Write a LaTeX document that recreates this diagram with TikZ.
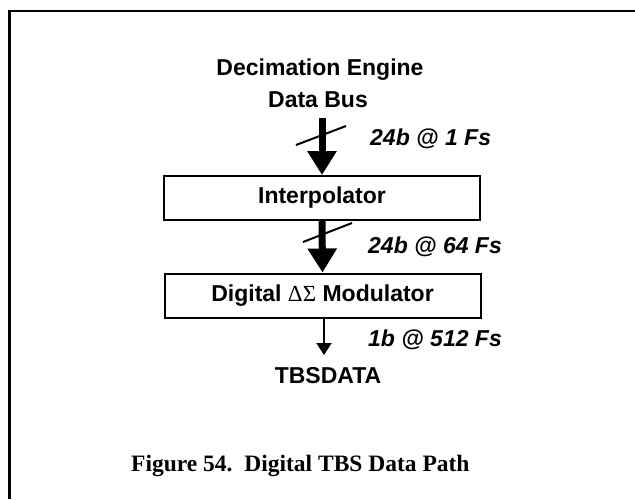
\documentclass[tikz,border=0pt]{standalone}
\usepackage{fontspec}
\setmainfont{Liberation Sans}
\newfontfamily\capfont{Liberation Serif}
\newfontfamily\symf{Liberation Serif}
\usetikzlibrary{arrows.meta}
\tikzset{
  lbl/.style={font=\fontsize{23}{27}\selectfont\bfseries, inner sep=0pt, anchor=base},
  rate/.style={font=\fontsize{23}{27}\selectfont\bfseries\itshape, inner sep=0pt, anchor=base west},
  blk/.style={draw, line width=2pt, minimum width=316pt, minimum height=44pt, inner sep=0pt,
              font=\fontsize{23}{27}\selectfont\bfseries},
  fat/.style={line width=7pt, -{Triangle[length=24pt,width=28pt]}},
  thin/.style={line width=2pt, -{Triangle[length=12pt,width=15pt]}},
  slash/.style={line width=2pt},
}
\begin{document}
\begin{tikzpicture}[x=1pt,y=-1pt]
\useasboundingbox (0,0) rectangle (635,499);
\draw[line width=2.5pt] (9.5,499) -- (9.5,11) -- (635,11);

\node[lbl] (dec) at (320,75) {Decimation Engine};
\node[lbl] (bus) at (318,107) {Data Bus};
\node[blk] (interp) at (322,198) {\raisebox{-2pt}{Interpolator}};
\node[blk] (mod) at (322.5,295.5) {\raisebox{-1.5pt}{Digital {\mdseries\symf ΔΣ} Modulator}};
\node[lbl] (out) at (328,383) {TBSDATA};

\node[rate] (r1) at (370,145) {24b @ 1 Fs};
\node[rate] (r2) at (368,253) {24b @ 64 Fs};
\node[rate] (r3) at (368,346) {1b @ 512 Fs};

\coordinate (a1) at (322,118);
\draw[fat] (a1) -- (interp.north);
\draw[fat] (interp.south) -- (mod.north);
\coordinate (a3) at (324,355);
\draw[thin] (mod.south -| a3) -- (a3);

\draw[slash] (296,145) -- (346,126);
\draw[slash] (303,242) -- (352,223);

\node[font=\fontsize{23.5}{28}\selectfont\capfont\bfseries, inner sep=0pt, anchor=base west] (cap) at (131,471) {Figure 54.\ \ Digital TBS Data Path};
\end{tikzpicture}
\end{document}
